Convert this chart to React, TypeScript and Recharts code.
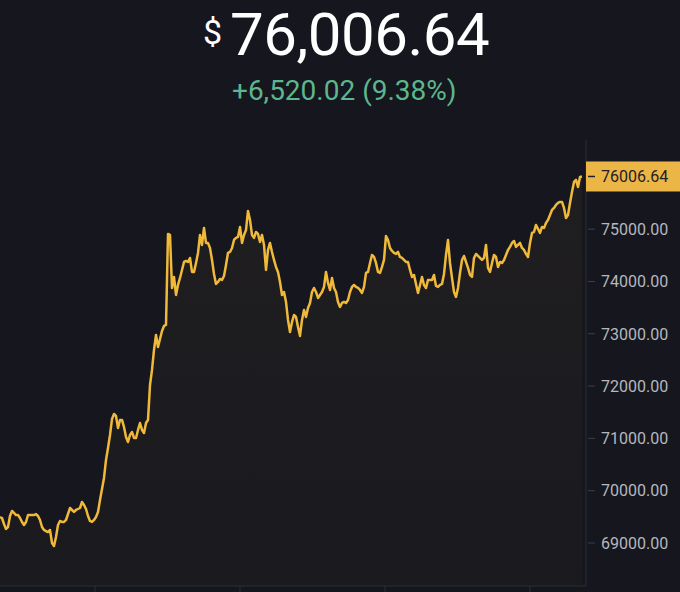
import React from 'react';
import { AreaChart, Area, XAxis, YAxis } from 'recharts';

// BTC price, one sample per step (left -> right)
const prices = [
  69497, 69478, 69363, 69268, 69306, 69516, 69612, 69574, 69535, 69535,
  69478, 69402, 69344, 69402, 69535, 69535, 69535, 69535, 69554, 69516,
  69440, 69306, 69249, 69229, 69210, 69249, 69000, 68943, 69115, 69344,
  69421, 69402, 69402, 69440, 69554, 69669, 69631, 69593, 69631, 69650,
  69669, 69784, 69727, 69650, 69516, 69421, 69402, 69440, 69497, 69593,
  69822, 70032, 70243, 70587, 70816, 71065, 71371, 71466, 71428, 71199,
  71352, 71352, 71218, 71027, 70931, 71065, 71122, 71008, 71008, 71161,
  71294, 71161, 71103, 71294, 71352, 72021, 72308, 72690, 72977, 72748,
  72900, 73053, 73149, 73168, 74908, 74889, 73876, 74086, 73742, 73933,
  74067, 74220, 74373, 74392, 74373, 74449, 74182, 74182, 74354, 74545,
  74889, 74698, 75023, 74736, 74736, 74640, 74411, 74143, 73952, 73990,
  74048, 74029, 74105, 74315, 74545, 74564, 74640, 74793, 74832, 74851,
  75042, 74736, 74889, 74985, 75348, 75176, 74889, 74832, 74946, 74908,
  74755, 74889, 74698, 74220, 74602, 74736, 74564, 74411, 74277, 74182,
  73990, 73742, 73799, 73608, 73264, 73034, 73226, 73359, 73321, 73130,
  72958, 73264, 73455, 73321, 73493, 73589, 73799, 73876, 73799, 73684,
  73742, 73799, 73895, 74182, 73971, 73837, 74067, 73876, 73799, 73608,
  73512, 73589, 73608, 73589, 73646, 73799, 73895, 73933, 73895, 73876,
  73837, 73780, 73895, 74162, 74182, 74354, 74507, 74468, 74354, 74182,
  74162, 74277, 74411, 74870, 74793, 74640, 74583, 74545, 74526, 74564,
  74468, 74449, 74411, 74373, 74373, 74220, 74086, 74124, 73952, 73780,
  73933, 74086, 73933, 73876, 74029, 74029, 74029, 74124, 73914, 73895,
  73933, 73952, 74143, 74507, 74793, 74354, 74067, 73799, 73704, 73876,
  74162, 74411, 74487, 74373, 74258, 74124, 74086, 74449, 74526, 74487,
  74449, 74411, 74449, 74698, 74258, 74182, 74354, 74507, 74468, 74277,
  74373, 74354, 74411, 74507, 74602, 74660, 74736, 74774, 74660, 74698,
  74736, 74640, 74602, 74526, 74468, 74736, 74927, 74946, 75080, 75004,
  74927, 75042, 75023, 75118, 75176, 75271, 75367, 75405, 75463, 75501,
  75520, 75520, 75405, 75214, 75271, 75501, 75711, 75902, 75941, 75807,
  75998, 76006.64,
];

const lastPrice = 76006.64;
const priceTicks = [69000, 70000, 71000, 72000, 73000, 74000, 75000, lastPrice];
const timeTicks = [47.5, 120, 192.5, 265];

const data = prices.map((p, i) => ({ i, p }));

const BG = '#15161e';
const AXIS = '#2a2e39';
const GOLD = '#f0b93a';

const PriceTick = ({ x, y, payload }: any) => {
  const v = payload.value;
  if (v === lastPrice) {
    return (
      <g>
        <rect x={x - 15} y={y - 15} width={94} height={30} fill="#ecb646" />
        <line x1={x - 13} x2={x - 6} y1={y} y2={y} stroke="#1e2026" strokeWidth={1.5} />
        <text x={x} y={y} dy="0.36em" fill="#1e2026" fontSize={16} fontFamily="Roboto">
          {v.toFixed(2)}
        </text>
      </g>
    );
  }
  return (
    <g>
      <line x1={x - 13} x2={x - 6} y1={y} y2={y} stroke="#3a3f4b" strokeWidth={1} />
      <text x={x} y={y} dy="0.36em" fill="#b5b8bf" fontSize={16} fontFamily="Roboto">
        {v.toFixed(2)}
      </text>
    </g>
  );
};

export default function App() {
  return (
    <div style={{ position: 'absolute', left: 0, top: 0, width: 680, height: 592, background: BG, overflow: 'hidden' }}>
      <svg width={680} height={130} style={{ position: 'absolute', left: 0, top: 0 }}>
        <text x={203} y={44} fill="#ffffff" fontSize={34} fontFamily="Roboto">$</text>
        <text x={230} y={55} fill="#ffffff" fontSize={60} fontFamily="Roboto" letterSpacing={-0.5}>76,006.64</text>
        <text x={232} y={100} fill="#5db68e" fontSize={28} fontFamily="Roboto">+6,520.02 (9.38%)</text>
      </svg>
      <div style={{ position: 'absolute', left: 0, top: 0 }}>
        <AreaChart width={680} height={592} data={data} margin={{ top: 140, right: 0, bottom: 0, left: 0 }}>
          <defs>
            <linearGradient id="fillGold" x1="0" y1="0" x2="0" y2="1">
              <stop offset="0%" stopColor={GOLD} stopOpacity={0.08} />
              <stop offset="100%" stopColor={GOLD} stopOpacity={0.035} />
            </linearGradient>
          </defs>
          <XAxis
            dataKey="i"
            type="number"
            domain={[0, 293]}
            ticks={timeTicks}
            axisLine={{ stroke: AXIS }}
            tickLine={{ stroke: AXIS }}
            tickSize={6}
            height={6}
            tick={() => <g />}
          />
          <YAxis
            orientation="right"
            width={94}
            domain={[68178, 76704]}
            allowDataOverflow
            ticks={priceTicks}
            interval={0}
            axisLine={{ stroke: AXIS }}
            tickLine={false}
            tickSize={8}
            tickMargin={7}
            tick={<PriceTick />}
          />
          <Area
            type="linear"
            dataKey="p"
            stroke={GOLD}
            strokeWidth={2.5}
            strokeLinejoin="round"
            fill="url(#fillGold)"
            dot={false}
            activeDot={false}
            isAnimationActive={false}
          />
        </AreaChart>
      </div>
    </div>
  );
}
